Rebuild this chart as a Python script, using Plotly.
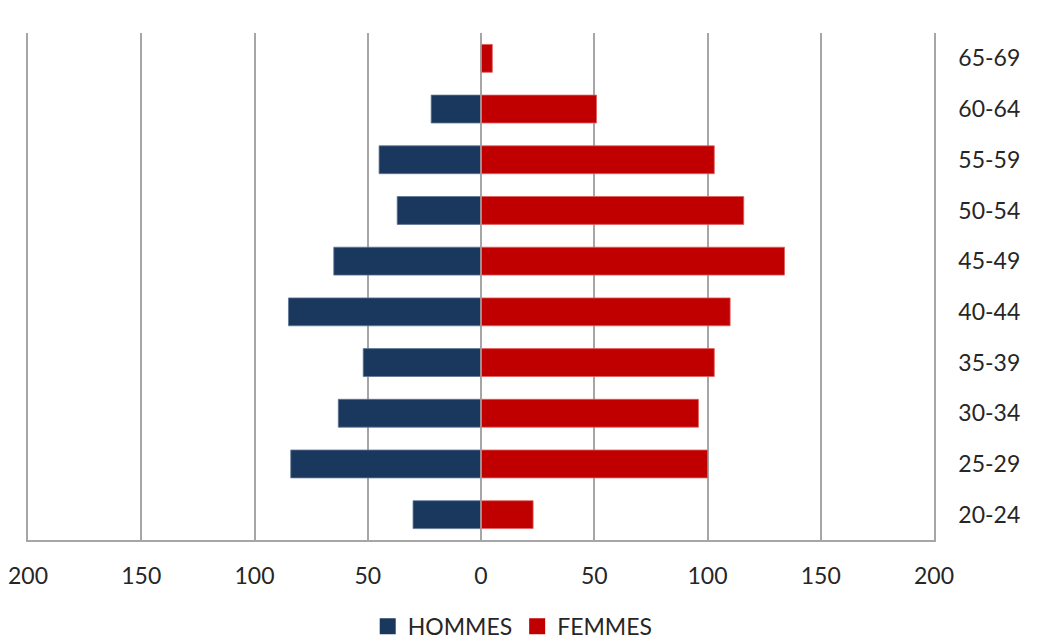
import plotly.graph_objects as go

# Age groups, youngest at the bottom
age_groups = ["20-24", "25-29", "30-34", "35-39", "40-44",
              "45-49", "50-54", "55-59", "60-64", "65-69"]
hommes = [30, 84, 63, 52, 85, 65, 37, 45, 22, 0]
femmes = [23, 100, 96, 103, 110, 134, 116, 103, 51, 5]

x_ticks = [-200, -150, -100, -50, 0, 50, 100, 150, 200]
x_tick_labels = [str(abs(v)) for v in x_ticks]

MALE_COLOR = "#1A375E"
FEMALE_COLOR = "#C00000"
GRID_COLOR = "#A6A6A6"
TEXT_COLOR = "#262626"
FONT = "Lato, 'Open Sans', sans-serif"

fig = go.Figure()
fig.add_trace(go.Bar(
    y=age_groups, x=[-v for v in hommes], orientation="h", name="HOMMES",
    marker=dict(color=MALE_COLOR, line=dict(color="#5F7696", width=0.8)),
    showlegend=False,
))
fig.add_trace(go.Bar(
    y=age_groups, x=femmes, orientation="h", name="FEMMES",
    marker=dict(color=FEMALE_COLOR, line=dict(color="#E06060", width=0.8)),
    showlegend=False,
))

# legend entries with larger square swatches
for name, color in (("HOMMES", MALE_COLOR), ("FEMMES", FEMALE_COLOR)):
    fig.add_trace(go.Scatter(
        x=[None], y=[None], mode="markers", name=name,
        marker=dict(symbol="square", size=16, color=color),
    ))

# zero line drawn over the bars
fig.add_shape(type="line", xref="x", yref="paper", x0=0, x1=0, y0=0, y1=1,
              line=dict(color=GRID_COLOR, width=1.5), layer="above")

fig.update_layout(
    width=1045, height=641,
    margin=dict(l=28, r=111, t=33, b=101, autoexpand=False),
    paper_bgcolor="white", plot_bgcolor="white",
    barmode="relative", bargap=0.45,
    font=dict(family=FONT, size=23, color=TEXT_COLOR),
    showlegend=True,
    legend=dict(orientation="h", x=0.535, xanchor="center",
                y=-0.17, yanchor="middle", font=dict(size=23),
                itemwidth=30, traceorder="normal"),
    xaxis=dict(
        range=[-200, 200], tickvals=x_ticks, ticktext=x_tick_labels,
        showgrid=True, gridcolor=GRID_COLOR, gridwidth=1.5,
        zeroline=False, showline=True, linecolor=GRID_COLOR, linewidth=1.5,
        ticks="", ticklabelstandoff=15, fixedrange=True,
    ),
    yaxis=dict(
        side="right", showgrid=False, zeroline=False,
        showline=True, mirror=True, linecolor=GRID_COLOR, linewidth=1.5,
        ticks="", ticklabelstandoff=18, fixedrange=True,
    ),
)

fig.write_html("out.html")
